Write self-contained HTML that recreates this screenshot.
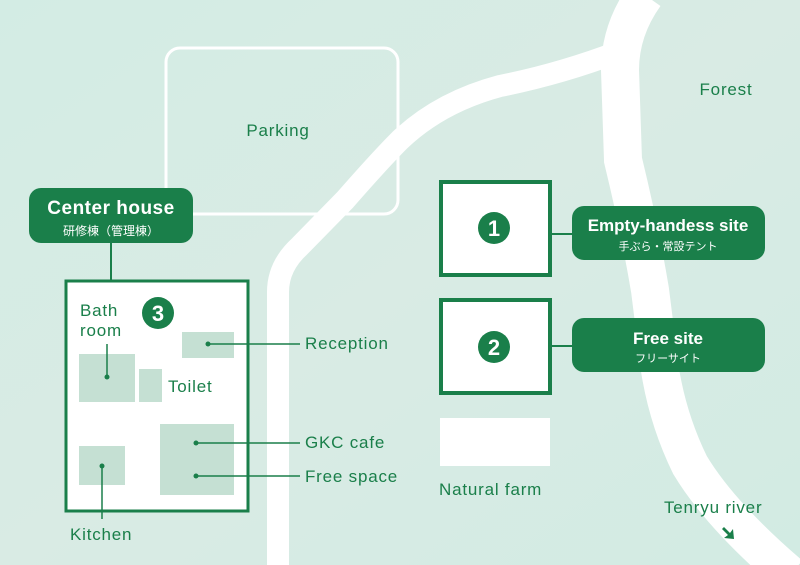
<!DOCTYPE html>
<html><head><meta charset="utf-8"><style>
body{margin:0;width:800px;height:565px;overflow:hidden}
svg{display:block}
text{font-family:"Liberation Sans","Noto Sans CJK JP",sans-serif}
</style></head><body>
<svg width="800" height="565" viewBox="0 0 800 565">
<defs><linearGradient id="bg" x1="0" y1="0" x2="1" y2="1">
<stop offset="0" stop-color="#d3ece4"/><stop offset="0.5" stop-color="#d9ebe4"/><stop offset="1" stop-color="#d2ebe3"/></linearGradient></defs>
<rect width="800" height="565" fill="url(#bg)"/>
<rect x="166" y="48" width="232" height="166" rx="14" fill="none" stroke="#fff" stroke-width="3"/>
<path d="M278 570 L278 292 Q278 266 300 246 L345 200 Q380 160 400 140 Q440 102 500 86 Q560 74 618 52" fill="none" stroke="#fff" stroke-width="22"/>
<path d="M645 -5 Q620 30 620 70 L623 160 Q640 230 650 290 L660 370 Q668 420 690 465 Q720 515 790 575" fill="none" stroke="#fff" stroke-width="38"/>
<g font-size="17" fill="#1a7f4a" letter-spacing="0.8">
<text x="278" y="136" text-anchor="middle">Parking</text>
<text x="726" y="95" text-anchor="middle">Forest</text></g>
<!-- center house -->
<rect x="29" y="188" width="164" height="55" rx="12" fill="#1a7f4a"/>
<text x="111" y="214" font-size="19" fill="#fff" text-anchor="middle" font-weight="bold" letter-spacing="0.5">Center house</text>
<text x="111" y="235" font-size="12" fill="#fff" text-anchor="middle">研修棟（管理棟）</text>
<line x1="111" y1="243" x2="111" y2="281" stroke="#1a7f4a" stroke-width="2"/>
<rect x="66" y="281" width="182" height="230" fill="#fff" stroke="#1a7f4a" stroke-width="3"/>
<g fill="#c5e0d3">
<rect x="79" y="354" width="56" height="48"/><rect x="139" y="369" width="23" height="33"/>
<rect x="182" y="332" width="52" height="26"/><rect x="79" y="446" width="46" height="39"/>
<rect x="160" y="424" width="74" height="71"/></g>
<circle cx="158" cy="313" r="16" fill="#1a7f4a"/>
<text x="158" y="321" font-size="22" font-weight="bold" fill="#fff" text-anchor="middle">3</text>
<g stroke="#1a7f4a" stroke-width="1.5">
<line x1="107" y1="344" x2="107" y2="377"/><line x1="208" y1="344" x2="300" y2="344"/>
<line x1="196" y1="443" x2="300" y2="443"/><line x1="196" y1="476" x2="300" y2="476"/>
<line x1="102" y1="466" x2="102" y2="519"/></g>
<g fill="#1a7f4a"><circle cx="107" cy="377" r="2.5"/><circle cx="208" cy="344" r="2.5"/><circle cx="196" cy="443" r="2.5"/><circle cx="196" cy="476" r="2.5"/><circle cx="102" cy="466" r="2.5"/></g>
<g font-size="17" fill="#1a7f4a" letter-spacing="0.8">
<text x="80" y="316">Bath</text><text x="80" y="336">room</text>
<text x="168" y="392">Toilet</text><text x="305" y="349">Reception</text>
<text x="305" y="448">GKC cafe</text><text x="305" y="482">Free space</text>
<text x="70" y="540">Kitchen</text>
<text x="439" y="495">Natural farm</text><text x="664" y="513">Tenryu river</text></g>
<!-- sites -->
<rect x="441" y="182" width="109" height="93" fill="#fff" stroke="#1a7f4a" stroke-width="4"/>
<rect x="441" y="300" width="109" height="93" fill="#fff" stroke="#1a7f4a" stroke-width="4"/>
<rect x="440" y="418" width="110" height="48" fill="#fff"/>
<circle cx="494" cy="228" r="16" fill="#1a7f4a"/><text x="494" y="236" font-size="22" font-weight="bold" fill="#fff" text-anchor="middle">1</text>
<circle cx="494" cy="347" r="16" fill="#1a7f4a"/><text x="494" y="355" font-size="22" font-weight="bold" fill="#fff" text-anchor="middle">2</text>
<line x1="550" y1="234" x2="572" y2="234" stroke="#1a7f4a" stroke-width="2"/>
<line x1="550" y1="346" x2="572" y2="346" stroke="#1a7f4a" stroke-width="2"/>
<rect x="572" y="206" width="193" height="54" rx="12" fill="#1a7f4a"/>
<text x="668" y="231" font-size="17" fill="#fff" text-anchor="middle" font-weight="bold">Empty-handess site</text>
<text x="668" y="250" font-size="11" fill="#fff" text-anchor="middle">手ぶら・常設テント</text>
<rect x="572" y="318" width="193" height="54" rx="12" fill="#1a7f4a"/>
<text x="668" y="344" font-size="17" fill="#fff" text-anchor="middle" font-weight="bold">Free site</text>
<text x="668" y="362" font-size="11" fill="#fff" text-anchor="middle">フリーサイト</text>
<path d="M724 527 L730 533 L733 529 L734 539 L724 538 L728 535 L722 529 Z" fill="#1a7f4a"/>
</svg>
</body></html>
